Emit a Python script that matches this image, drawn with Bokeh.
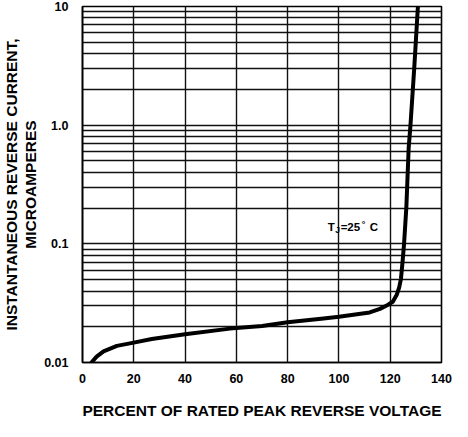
from bokeh.plotting import figure
from bokeh.models import FixedTicker, Range1d, Label
from bokeh.embed import file_html
from bokeh.resources import INLINE

# ---- data ----
pct_voltage = [3.5, 5.5, 8.2, 13.4, 20, 27, 40, 57.5, 70, 80, 94, 100, 112, 116, 119,
               121, 122.5, 123.5, 124.2, 124.8, 125.4, 126.3, 127.2, 127.9, 129.4, 130.8]
reverse_current = [0.0100, 0.0112, 0.0124, 0.0138, 0.0147, 0.0158, 0.0173, 0.0193, 0.0203,
                   0.0218, 0.0235, 0.0243, 0.0264, 0.0283, 0.0305, 0.0325, 0.037, 0.043,
                   0.051, 0.07, 0.10, 0.205, 0.645, 1.0, 3.1, 10.0]

x_ticks = [0, 20, 40, 60, 80, 100, 120, 140]
y_ticks = [0.01, 0.1, 1, 10]
y_tick_labels = ["0.01", "0.1", "1.0", "10"]
y_minor = [m * d for d in [0.01, 0.1, 1] for m in range(2, 10)]

x_title = "PERCENT OF RATED PEAK REVERSE VOLTAGE"
y_title = "INSTANTANEOUS REVERSE CURRENT,\nMICROAMPERES"
note_anchor = (95.6, 0.1377)

FONT = "Liberation Sans"

p = figure(width=452, height=421, y_axis_type="log",
           x_range=Range1d(0, 140), y_range=Range1d(0.01, 10),
           output_backend="svg", toolbar_location=None,
           min_border_left=71, min_border_right=11, min_border_top=6, min_border_bottom=40)

p.background_fill_color = "white"
p.border_fill_color = "white"
p.outline_line_color = "black"
p.outline_line_width = 1.6

p.xaxis.ticker = FixedTicker(ticks=x_ticks)
p.yaxis.ticker = FixedTicker(ticks=y_ticks, minor_ticks=y_minor)
p.yaxis.major_label_overrides = {float(v): s for v, s in zip(y_ticks, y_tick_labels)}

for ax in (p.xaxis, p.yaxis):
    ax.axis_line_color = "black"
    ax.axis_line_width = 1.6
    ax.major_tick_line_color = None
    ax.minor_tick_line_color = None
    ax.major_label_text_font = FONT
    ax.major_label_text_font_style = "bold"
    ax.major_label_text_font_size = "12.5px"
    ax.major_label_text_color = "black"
    ax.axis_label_text_font = FONT
    ax.axis_label_text_font_style = "bold"
    ax.axis_label_text_font_size = "15.5px"
    ax.axis_label_text_color = "black"

p.xaxis.axis_label = x_title
p.xaxis.axis_label_text_line_height = 1.0
p.xaxis.major_label_standoff = 5
p.xaxis.axis_label_standoff = 16
p.yaxis.axis_label = y_title
p.yaxis.axis_label_text_line_height = 1.1
p.yaxis.major_label_standoff = 8
p.yaxis.axis_label_standoff = 2

p.xgrid.grid_line_color = "#111111"
p.xgrid.grid_line_width = 1.4
p.ygrid.grid_line_color = "#111111"
p.ygrid.grid_line_width = 1.4
p.ygrid.minor_grid_line_color = "#111111"
p.ygrid.minor_grid_line_width = 1.4

p.line(pct_voltage, reverse_current, line_color="black", line_width=4,
       line_join="round", line_cap="round")

# T_J = 25 °C note
pieces = [("T", 0, 0, "11.5px"), ("J", 7.5, -3, "8.5px"), ("=25", 13, 0, "11.5px"),
          ("°", 34, 3, "9px"), ("C", 42, 0, "11.5px")]
for txt, dx, dy, fs in pieces:
    p.add_layout(Label(x=note_anchor[0], y=note_anchor[1], x_offset=dx, y_offset=dy,
                       text=txt, text_font=FONT, text_font_style="bold",
                       text_font_size=fs, text_color="black", text_baseline="middle"))

open("out.html", "w").write(file_html(p, INLINE))
